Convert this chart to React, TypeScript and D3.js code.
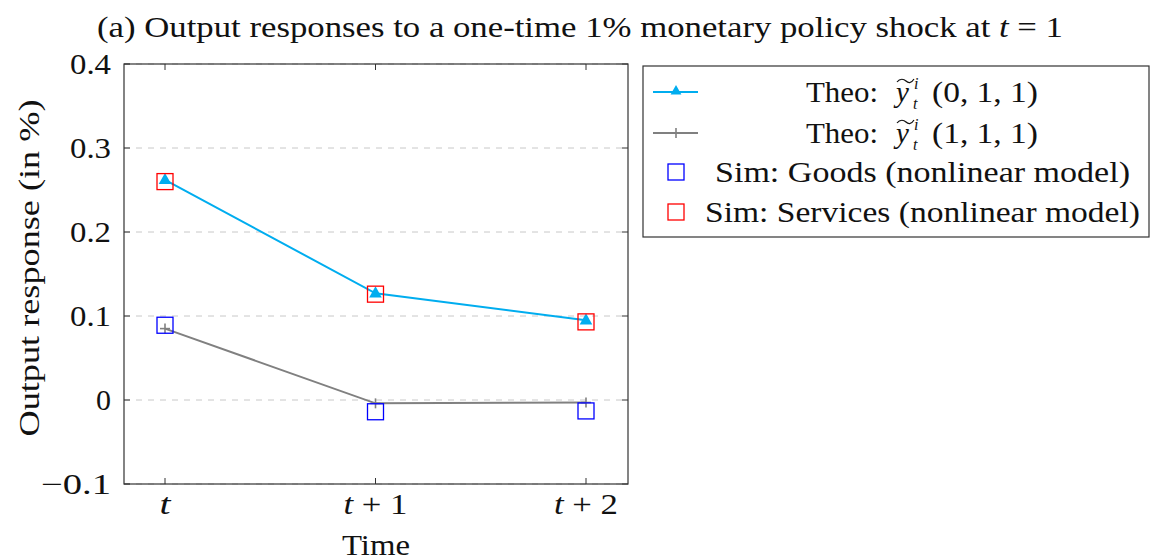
import React from "react";
import * as d3 from "d3";

const periods = ["t", "t + 1", "t + 2"];
const theo011 = [0.262, 0.127, 0.095];
const theo111 = [0.085, -0.004, -0.003];
const simGoods = [0.089, -0.014, -0.013];
const simServices = [0.26, 0.126, 0.093];
const yTicks = [-0.1, 0, 0.1, 0.2, 0.3, 0.4];

const W = 1156, H = 560;
const FONT = "'Liberation Serif', 'DejaVu Serif', serif";
const CYAN = "#00ADEF";
const GRAY = "#808080";
const FS = 29;

export default function App() {
  const left = 124, right = 628, top = 64, bottom = 484;
  const x = d3.scalePoint<number>().domain([0, 1, 2]).range([165, 586]);
  const y = d3.scaleLinear().domain([-0.1, 0.4]).range([bottom, top]);
  const line = d3.line<number>().x((_, i) => x(i)!).y((d) => y(d));
  const tri = (cx: number, cy: number, s = 7) =>
    `M${cx},${cy - s} L${cx + s * 0.9},${cy + s * 0.6} L${cx - s * 0.9},${cy + s * 0.6} Z`;

  const legendRows = [92, 133, 172, 212];
  const lx0 = 653, lx1 = 698, lxm = 676;

  const theoLabel = (row: number, args: string) => {
    const B = row + 10;
    return (
      <g fill="#111" fontSize={FS}>
        <text x={806} y={B} textLength={72} lengthAdjust="spacingAndGlyphs">Theo:</text>
        <text x={896} y={B} fontStyle="italic">y</text>
        <path d={`M${897},${B - 20} C${900},${B - 24} ${904},${B - 23} ${906},${B - 21} S${911},${B - 18} ${914},${B - 23}`} fill="none" stroke="#111" strokeWidth={1.2} />
        <text x={914} y={B - 13} fontSize={16} fontStyle="italic">i</text>
        <text x={913} y={B + 7} fontSize={16} fontStyle="italic">t</text>
        <text x={932} y={B} textLength={106} lengthAdjust="spacingAndGlyphs">{args}</text>
      </g>
    );
  };

  return (
    <svg width={W} height={H} style={{ position: "absolute", left: 0, top: 0, background: "#fff" }} fontFamily={FONT}>
      <text x={97} y={37} fontSize={FS} fill="#111" textLength={966} lengthAdjust="spacingAndGlyphs">
        (a) Output responses to a one-time 1% monetary policy shock at{" "}
        <tspan fontStyle="italic">t</tspan> = 1
      </text>

      {/* grid */}
      {yTicks.map((t) => (
        <line key={"g" + t} x1={left} x2={right} y1={y(t)} y2={y(t)} stroke="#c8c8c8" strokeWidth={1} strokeDasharray="6 6" />
      ))}

      {/* lines */}
      <path d={line(theo011)!} fill="none" stroke={CYAN} strokeWidth={2} />
      <path d={line(theo111)!} fill="none" stroke={GRAY} strokeWidth={2} />

      {theo011.map((v, i) => (
        <path key={"tr" + i} d={tri(x(i)!, y(v))} fill={CYAN} />
      ))}
      {theo111.map((v, i) => (
        <g key={"pl" + i} stroke={GRAY} strokeWidth={1.6}>
          <line x1={x(i)! - 5} x2={x(i)! + 5} y1={y(v)} y2={y(v)} />
          <line x1={x(i)!} x2={x(i)!} y1={y(v) - 5} y2={y(v) + 5} />
        </g>
      ))}
      {simGoods.map((v, i) => (
        <rect key={"sg" + i} x={x(i)! - 8} y={y(v) - 8} width={16} height={16} fill="none" stroke="#0000ff" strokeWidth={1.3} />
      ))}
      {simServices.map((v, i) => (
        <rect key={"ss" + i} x={x(i)! - 8} y={y(v) - 8} width={16} height={16} fill="none" stroke="#ff0000" strokeWidth={1.3} />
      ))}

      {/* axes box */}
      <rect x={left} y={top} width={right - left} height={bottom - top} fill="none" stroke="#333" strokeWidth={1.2} />
      {yTicks.map((t) => {
        const lab = t < 0 ? "\u2212" + Math.abs(t).toFixed(1) : t === 0 ? "0" : t.toFixed(1);
        return (
          <g key={"yt" + t}>
            <line x1={left} x2={left + 6} y1={y(t)} y2={y(t)} stroke="#333" />
            <line x1={right} x2={right - 6} y1={y(t)} y2={y(t)} stroke="#333" />
            <text x={111} y={y(t) + 10} fontSize={FS} textAnchor="end" fill="#111"
              textLength={t < 0 ? 70 : t === 0 ? 15 : 41} lengthAdjust="spacingAndGlyphs">
              {lab}
            </text>
          </g>
        );
      })}
      {periods.map((p, i) => (
        <g key={"xt" + i}>
          <line x1={x(i)!} x2={x(i)!} y1={bottom} y2={bottom - 6} stroke="#333" />
          <line x1={x(i)!} x2={x(i)!} y1={top} y2={top + 6} stroke="#333" />
          <text x={x(i)!} y={514} fontSize={FS} textAnchor="middle" fill="#111"
            textLength={i === 0 ? 11 : 64} lengthAdjust="spacingAndGlyphs">
            <tspan fontStyle="italic">t</tspan>
            {p.slice(1)}
          </text>
        </g>
      ))}
      <text x={376} y={555} fontSize={FS} textAnchor="middle" fill="#111" textLength={68} lengthAdjust="spacingAndGlyphs">Time</text>
      <text transform={`translate(39,268) rotate(-90)`} fontSize={FS} textAnchor="middle" fill="#111"
        textLength={337} lengthAdjust="spacingAndGlyphs">
        Output response (in %)
      </text>

      {/* legend */}
      <rect x={643} y={66} width={506} height={171} fill="#fff" stroke="#333" strokeWidth={1.2} />
      <line x1={lx0} x2={lx1} y1={legendRows[0]} y2={legendRows[0]} stroke={CYAN} strokeWidth={2} />
      <path d={tri(lxm, legendRows[0] - 1, 6)} fill={CYAN} />
      <line x1={lx0} x2={lx1} y1={legendRows[1]} y2={legendRows[1]} stroke={GRAY} strokeWidth={2} />
      <line x1={lxm} x2={lxm} y1={legendRows[1] - 5} y2={legendRows[1] + 5} stroke={GRAY} strokeWidth={1.6} />
      <rect x={lxm - 8} y={legendRows[2] - 8} width={16} height={16} fill="none" stroke="#0000ff" strokeWidth={1.3} />
      <rect x={lxm - 8} y={legendRows[3] - 8} width={16} height={16} fill="none" stroke="#ff0000" strokeWidth={1.3} />

      {theoLabel(legendRows[0], "(0, 1, 1)")}
      {theoLabel(legendRows[1], "(1, 1, 1)")}
      <text x={715} y={legendRows[2] + 10} fontSize={FS} fill="#111" textLength={415} lengthAdjust="spacingAndGlyphs">Sim: Goods (nonlinear model)</text>
      <text x={705} y={legendRows[3] + 10} fontSize={FS} fill="#111" textLength={435} lengthAdjust="spacingAndGlyphs">Sim: Services (nonlinear model)</text>
    </svg>
  );
}
